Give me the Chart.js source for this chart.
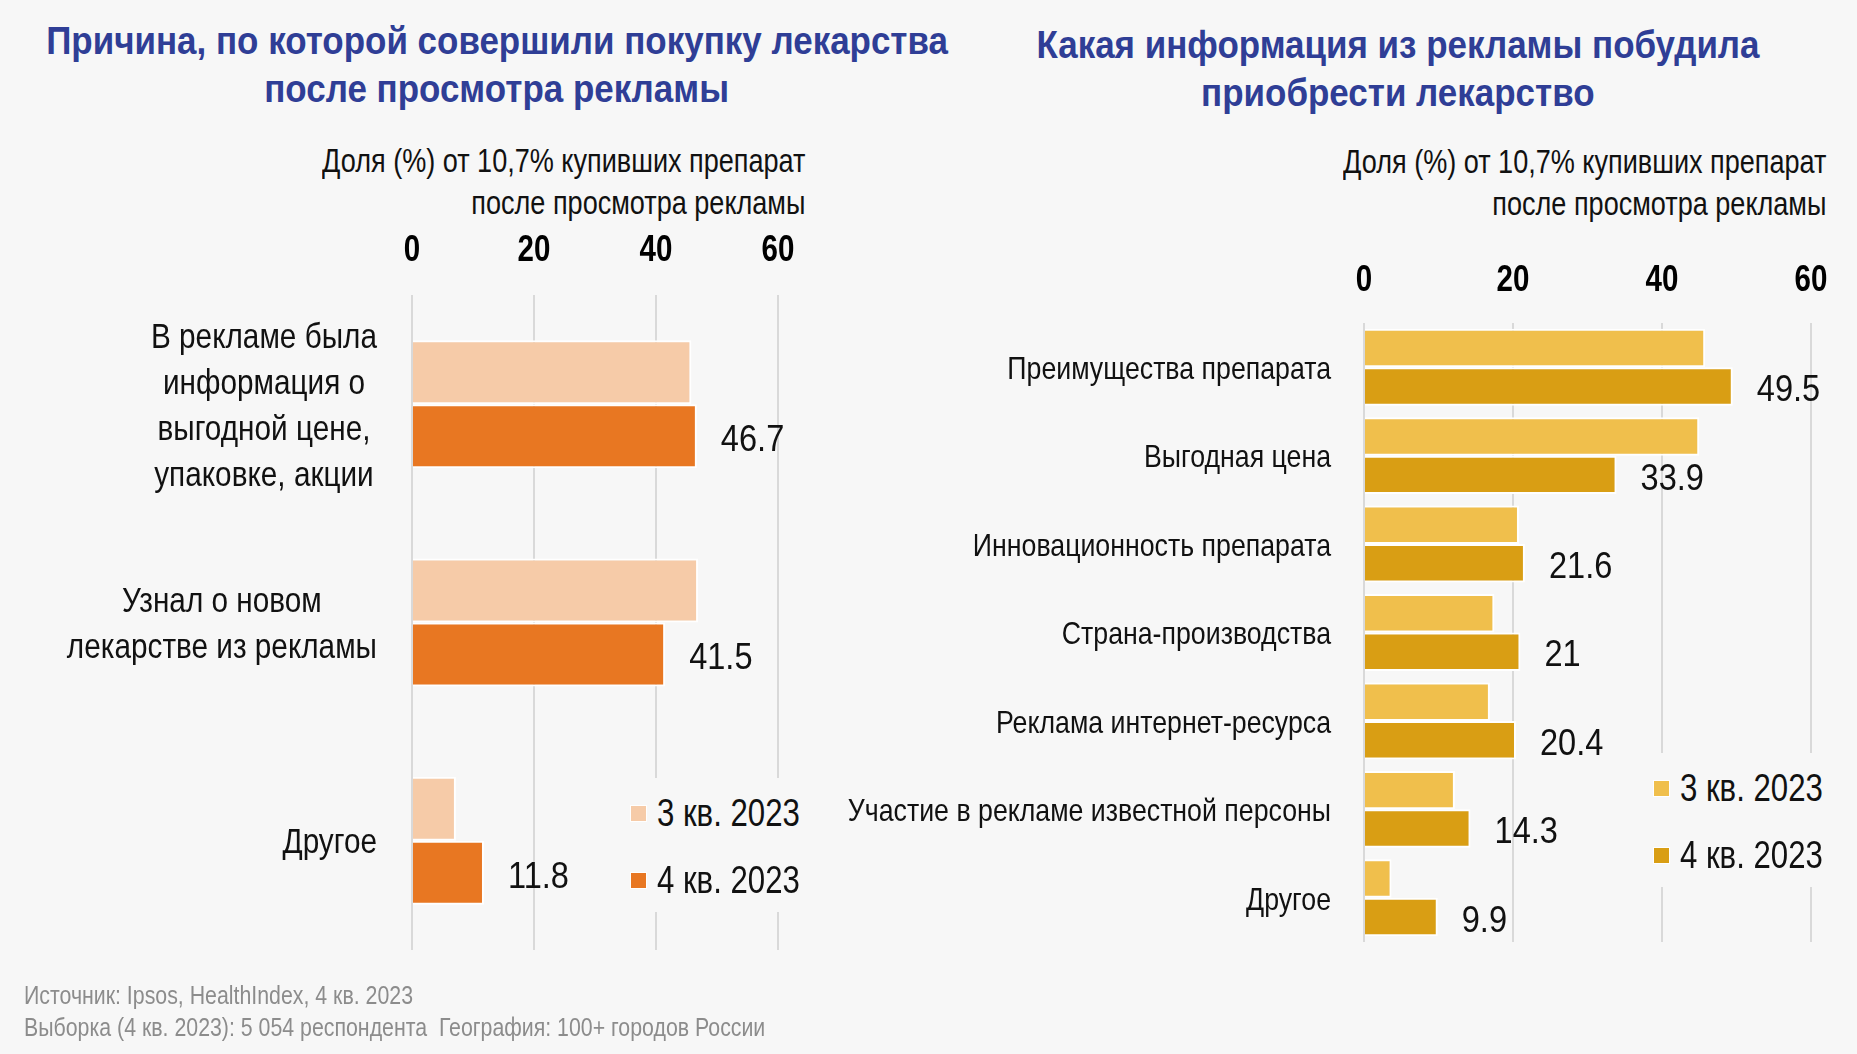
<!DOCTYPE html>
<html lang="ru">
<head>
<meta charset="utf-8">
<title>Реклама лекарств</title>
<script src="https://cdn.jsdelivr.net/npm/chart.js@4.4.0/dist/chart.umd.min.js"></script>
<style>
  body {
    margin: 0; background: #f7f7f7; width: 1857px; height: 1054px;
    overflow: hidden; position: relative;
    font-family: 'Liberation Sans', Arial, sans-serif;
  }
  canvas { position: absolute; top: 0; }
  /* narrow type: Arial squeezed horizontally */
  .narrow { display: inline-block; transform: scaleX(0.82); white-space: nowrap; }
  .title {
    position: absolute; width: 1200px; text-align: center;
    color: #2f3e96; font-weight: bold; font-size: 38px; line-height: 48px;
  }
  .title .narrow { transform-origin: center; transform: scaleX(0.92); }
  .sub {
    position: absolute; text-align: right; color: #111;
    font-size: 33px; line-height: 42px;
  }
  .sub .narrow { transform-origin: right; }
  .legend { position: absolute; background: #f7f7f7; font-size: 38px; color: #111; padding-right: 6px; }
  .legend div { height: 67px; line-height: 67px; white-space: nowrap; }
  .legend .narrow { transform-origin: left; vertical-align: middle; }
  .legend i {
    display: inline-block; width: 15px; height: 15px; margin-right: 10px;
    border: 1px solid #fff; vertical-align: middle;
  }
  .note {
    position: absolute; left: 24px; top: 979px; color: #8c8c8c;
    font-size: 26px; line-height: 32px;
  }
  .note .narrow { transform-origin: left; }
</style>
</head>
<body>

<div class="title" style="left:-103px; top:17px;">
  <span class="narrow">Причина, по которой совершили покупку лекарства</span><br>
  <span class="narrow">после просмотра рекламы</span>
</div>
<div class="title" style="left:798px; top:21px;">
  <span class="narrow">Какая информация из рекламы побудила</span><br>
  <span class="narrow">приобрести лекарство</span>
</div>

<div class="sub" style="right:1052px; top:140px;">
  <span class="narrow">Доля (%) от 10,7% купивших препарат</span><br>
  <span class="narrow">после просмотра рекламы</span>
</div>
<div class="sub" style="right:31px; top:141px;">
  <span class="narrow">Доля (%) от 10,7% купивших препарат</span><br>
  <span class="narrow">после просмотра рекламы</span>
</div>

<canvas id="leftChart" width="930" height="1054" style="left:0"></canvas>
<canvas id="rightChart" width="1057" height="1054" style="left:800px"></canvas>

<div class="legend" style="left:630px; top:778px;">
  <div><i style="background:#f6cba8"></i><span class="narrow">3 кв. 2023</span></div>
  <div><i style="background:#e87722"></i><span class="narrow">4 кв. 2023</span></div>
</div>
<div class="legend" style="left:1653px; top:753px;">
  <div><i style="background:#f0bf4c"></i><span class="narrow">3 кв. 2023</span></div>
  <div><i style="background:#d99e14"></i><span class="narrow">4 кв. 2023</span></div>
</div>

<div class="note">
  <span class="narrow">Источник: Ipsos, HealthIndex, 4 кв. 2023</span><br>
  <span class="narrow">Выборка (4 кв. 2023): 5 054 респондента&nbsp; География: 100+ городов России</span>
</div>

<script>
// data
const seriesNames = ['3 кв. 2023', '4 кв. 2023']
const xTicks = [0, 20, 40, 60]

const leftLabels = [
  ['В рекламе была', 'информация о', 'выгодной цене,', 'упаковке, акции'],
  ['Узнал о новом', 'лекарстве из рекламы'],
  ['Другое']
]
const leftQ3 = [45.8, 46.9, 7.2]
const leftQ4 = [46.7, 41.5, 11.8]

const rightLabels = [
  'Преимущества препарата',
  'Выгодная цена',
  'Инновационность препарата',
  'Страна-производства',
  'Реклама интернет-ресурса',
  'Участие в рекламе известной персоны',
  'Другое'
]
const rightQ3 = [45.8, 45.0, 20.8, 17.5, 16.9, 12.2, 3.7]
const rightQ4 = [49.5, 33.9, 21.6, 21, 20.4, 14.3, 9.9]

const FONT = "'Liberation Sans', Arial, sans-serif"

// squeezed text, anchor kept at x
function narrowText(ctx, text, x, y, sx) {
  ctx.save()
  ctx.translate(x, y)
  ctx.scale(sx, 1)
  ctx.fillText(text, 0, 0)
  ctx.restore()
}

/* numbers next to the 4 кв. bars */
const valueLabels = {
  id: 'valueLabels',
  afterDatasetsDraw(chart) {
    const ctx = chart.ctx
    const ds = chart.data.datasets[1]
    const meta = chart.getDatasetMeta(1)
    ctx.save()
    ctx.font = '37px ' + FONT
    ctx.fillStyle = '#111'
    ctx.textAlign = 'left'
    ctx.textBaseline = 'middle'
    meta.data.forEach((bar, i) => {
      narrowText(ctx, String(ds.data[i]), bar.x + 24, bar.y + 4.5, 0.88)
    })
    ctx.restore()
  }
}

/* axis numbers on top and category labels, both in narrow type */
const narrowLabels = {
  id: 'narrowLabels',
  afterDraw(chart, args, opts) {
    const ctx = chart.ctx
    const xs = chart.scales.x
    const ys = chart.scales.y
    ctx.save()
    ctx.fillStyle = '#000'
    ctx.textBaseline = 'middle'
    ctx.textAlign = 'center'
    ctx.font = 'bold 36px ' + FONT
    xs.ticks.forEach(t => {
      narrowText(ctx, String(t.value), xs.getPixelForValue(t.value), chart.chartArea.top - opts.tickGap, 0.82)
    })

    ctx.fillStyle = '#111'
    ctx.font = opts.size + 'px ' + FONT
    chart.data.labels.forEach((lbl, i) => {
      const lines = Array.isArray(lbl) ? lbl : [lbl]
      const w = Math.max(...lines.map(l => ctx.measureText(l).width)) * opts.sx
      const cx = opts.right - w / 2
      const cy = ys.getPixelForValue(i) + 3
      lines.forEach((l, k) => {
        narrowText(ctx, l, cx, cy + (k - (lines.length - 1) / 2) * opts.lineHeight, opts.sx)
      })
    })
    ctx.restore()
  }
}

function makeChart(id, labels, q3, q4, colors, g) {
  return new Chart(document.getElementById(id), {
    type: 'bar',
    data: {
      labels: labels,
      datasets: [
        { label: seriesNames[0], data: q3, backgroundColor: colors[0] },
        { label: seriesNames[1], data: q4, backgroundColor: colors[1] }
      ]
    },
    options: {
      indexAxis: 'y',
      responsive: false,
      animation: false,
      layout: { padding: { left: 0, right: g.padRight, top: 0, bottom: g.padBottom } },
      datasets: {
        bar: {
          borderColor: '#ffffff', borderWidth: 2,
          barPercentage: 1, categoryPercentage: g.catPct
        }
      },
      scales: {
        x: {
          position: 'top', min: 0, max: 60,
          afterBuildTicks: (s) => { s.ticks = xTicks.map(v => ({ value: v })) },
          afterFit: (s) => { s.height = g.top },
          ticks: { display: false },
          grid: { color: '#d9d9d9', lineWidth: 2, drawTicks: false },
          border: { display: false }
        },
        y: {
          afterFit: (s) => { s.width = g.left },
          ticks: { display: false },
          grid: { display: false },
          border: { display: false }
        }
      },
      plugins: {
        legend: { display: false },
        tooltip: { enabled: false },
        narrowLabels: g.labels
      }
    },
    plugins: [valueLabels, narrowLabels]
  })
}

makeChart('leftChart', leftLabels, leftQ3, leftQ4, ['#f6cba8', '#e87722'], {
  left: 412, top: 295, padRight: 152, padBottom: 104, catPct: 0.586,
  labels: { right: 377, lineHeight: 46, size: 35, sx: 0.85, tickGap: 44 }
})

makeChart('rightChart', rightLabels, rightQ3, rightQ4, ['#f0bf4c', '#d99e14'], {
  left: 564, top: 323, padRight: 46, padBottom: 112, catPct: 0.87,
  labels: { right: 531, lineHeight: 40, size: 32, sx: 0.835, tickGap: 42 }
})
</script>
</body>
</html>
